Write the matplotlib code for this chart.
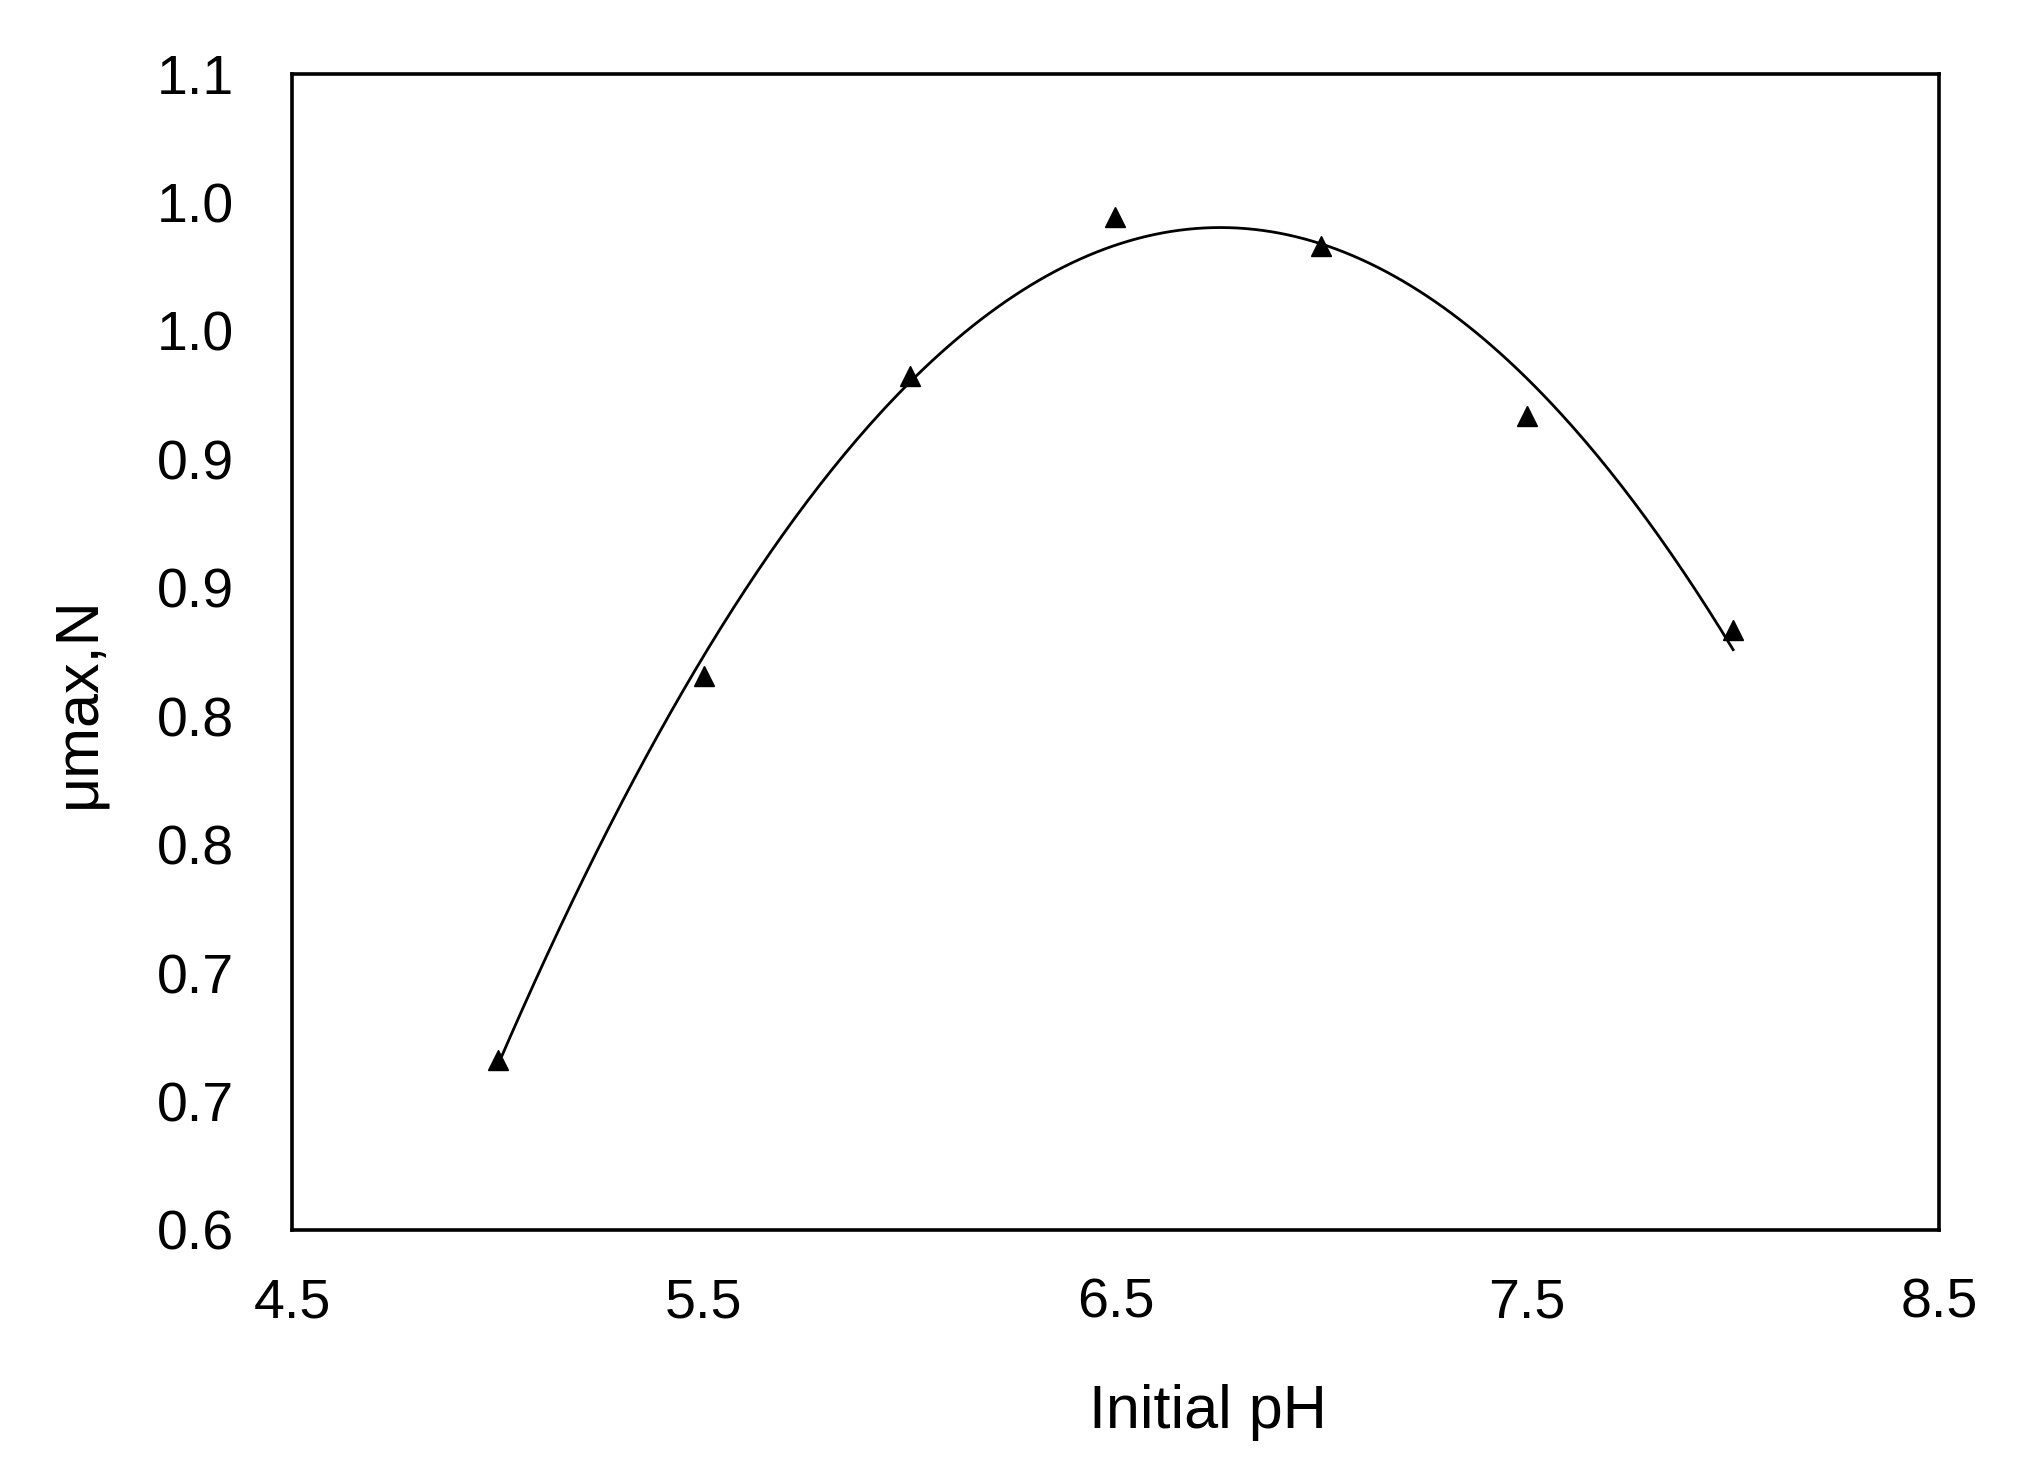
import numpy as np
import matplotlib
matplotlib.use('Agg')
import matplotlib.pyplot as plt
from matplotlib import font_manager

# data
ph = [5.0, 5.5, 6.0, 6.5, 7.0, 7.5, 8.0]
mu_max = [0.6662, 0.8158, 0.9324, 0.9943, 0.983, 0.9168, 0.8336]

yticks = [0.60, 0.65, 0.70, 0.75, 0.80, 0.85, 0.90, 0.95, 1.00, 1.05]
ytick_labels = ['0.6', '0.7', '0.7', '0.8', '0.8', '0.9', '0.9', '1.0', '1.0', '1.1']
xticks = [4.5, 5.5, 6.5, 7.5, 8.5]

names = {f.name for f in font_manager.fontManager.ttflist}
fam = 'Liberation Sans Narrow' if 'Liberation Sans Narrow' in names else 'Liberation Sans'
plt.rcParams['font.family'] = [fam, 'DejaVu Sans']

fig = plt.figure(figsize=(20.33, 14.6), dpi=100)
ax = fig.add_axes([292 / 2033, 1 - 1230 / 1460, (1939 - 292) / 2033, (1230 - 74) / 1460])

# polynomial trendline (order 2)
coef = np.polyfit(ph, mu_max, 2)
xs = np.linspace(min(ph), max(ph), 300)
ax.plot(xs, np.polyval(coef, xs), color='black', lw=2.0, zorder=2)
ax.plot(ph, mu_max, linestyle='none', marker='^', color='black', markersize=14, zorder=3)

ax.set_xlim(4.5, 8.5)
ax.set_ylim(0.6, 1.05)
ax.set_xticks(xticks)
ax.set_xticklabels(['%.1f' % v for v in xticks])
ax.set_yticks(yticks)
ax.set_yticklabels(ytick_labels)
ax.tick_params(axis='both', length=0, labelsize=40, colors='black')
ax.tick_params(axis='x', pad=34)
ax.tick_params(axis='y', pad=42)

for s in ax.spines.values():
    s.set_linewidth(2.6)
    s.set_color('black')

ax.set_xlabel('Initial pH', fontsize=44)
ax.xaxis.set_label_coords(0.556, -0.133)
ax.set_ylabel('μmax,N', fontsize=44)
ax.yaxis.set_label_coords(-0.112, 0.457)

fig.savefig('out.png', dpi=100, facecolor='white')
